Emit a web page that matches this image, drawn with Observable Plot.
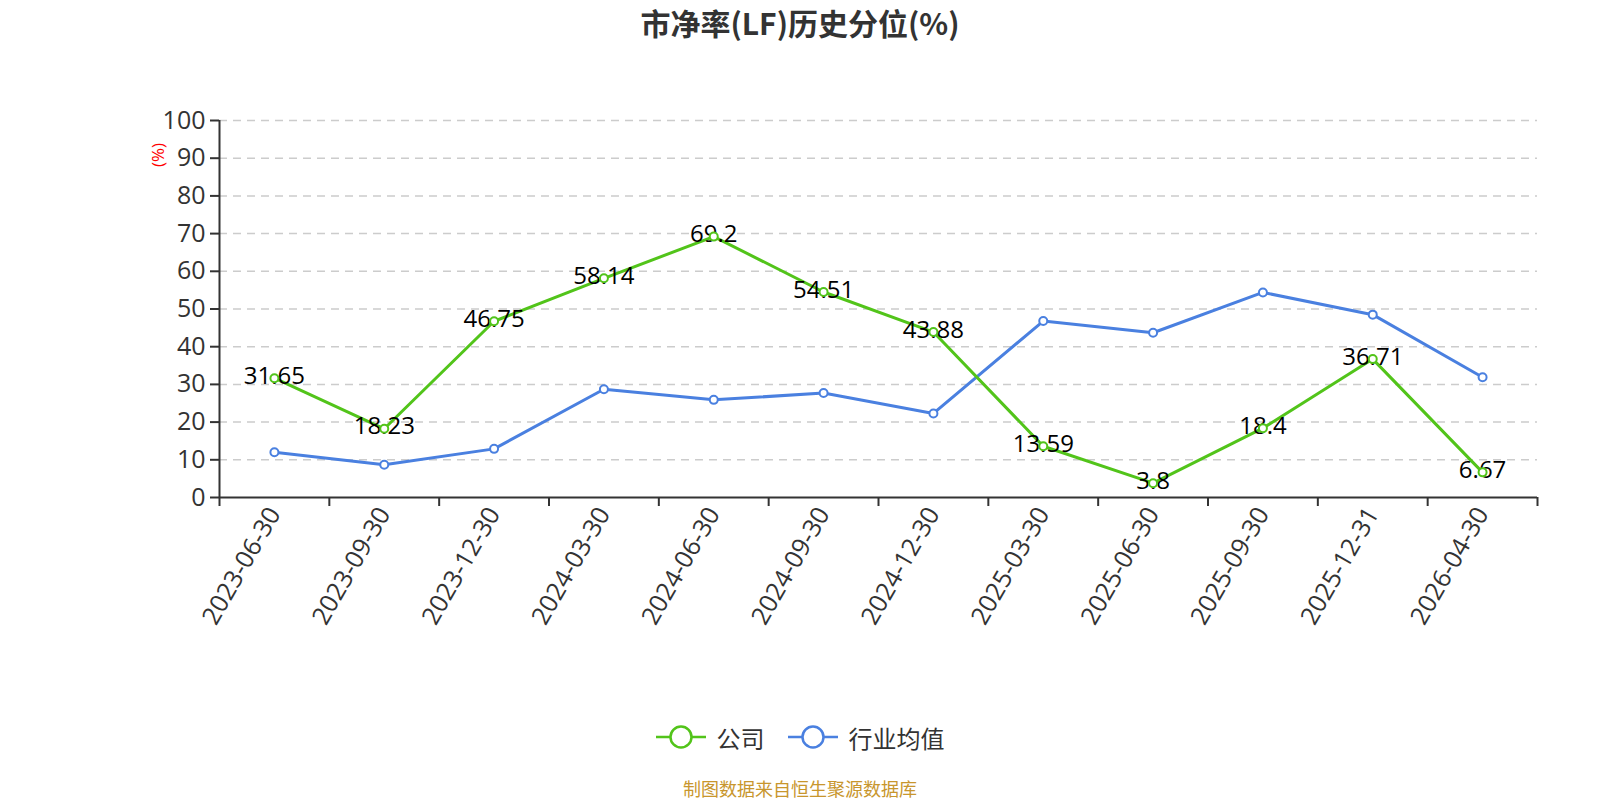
<!DOCTYPE html>
<html>
<head>
<meta charset="utf-8">
<script src="https://cdn.jsdelivr.net/npm/d3@7"></script>
<script src="https://cdn.jsdelivr.net/npm/@observablehq/plot@0.6"></script>
<style>
  html, body { margin: 0; padding: 0; background: #fff; }
  body { width: 1600px; height: 800px; position: relative; overflow: hidden;
         font-family: "Open Sans", "Noto Sans CJK SC", sans-serif; }
  #title { position: absolute; left: 0; top: 0; width: 1600px; height: 45px; line-height: 45px;
           text-align: center; font-size: 30px; font-weight: bold; color: #333;
           font-family: "Noto Sans CJK SC", "Open Sans", sans-serif; }
  #chart { position: absolute; left: 0; top: 0; }
  #ylab { position: absolute; left: 157px; top: 155px; transform: translate(-50%, -50%) rotate(-90deg);
          color: red; font-size: 17px; white-space: nowrap; }
  #legend { position: absolute; left: 0; top: 717px; width: 1600px; height: 40px;
            display: flex; justify-content: center; align-items: center; gap: 23px;
            font-size: 24px; color: #333; font-family: "Noto Sans CJK SC", sans-serif; }
  .item { display: flex; align-items: center; gap: 11px; }
  #footer { position: absolute; left: 0; top: 776px; width: 1600px; height: 24px; line-height: 24px;
            text-align: center; font-size: 18px; color: #c8962d; font-family: "Noto Sans CJK SC", sans-serif; }
</style>
</head>
<body>
<div id="title">市净率(LF)历史分位(%)</div>
<div id="chart"></div>
<div id="ylab">(%)</div>
<div id="legend"></div>
<div id="footer">制图数据来自恒生聚源数据库</div>
<script>
const dates = ["2023-06-30","2023-09-30","2023-12-30","2024-03-30","2024-06-30","2024-09-30",
               "2024-12-30","2025-03-30","2025-06-30","2025-09-30","2025-12-31","2026-04-30"];
const company = [31.65, 18.23, 46.75, 58.14, 69.2, 54.51, 43.88, 13.59, 3.8, 18.4, 36.71, 6.67];
const industry = [12.0, 8.7, 12.9, 28.7, 25.9, 27.7, 22.3, 46.8, 43.7, 54.4, 48.5, 31.9];
const yTicks = [0, 10, 20, 30, 40, 50, 60, 70, 80, 90, 100];
const seriesNames = ["公司", "行业均值"];
const GREEN = "#52c41a";
const BLUE = "#4a80e0";
const colors = [GREEN, BLUE];

const idx = (d, i) => i;
const val = d => d;

const chart = Plot.plot({
  width: 1600,
  height: 680,
  marginLeft: 219,
  marginRight: 63,
  marginTop: 120,
  marginBottom: 183,
  style: { color: "#333", fontFamily: "'Open Sans', 'Noto Sans CJK SC', sans-serif", background: "transparent" },
  x: { type: "linear", domain: [-0.5, dates.length - 0.5] },
  y: { domain: [0, 100] },
  marks: [
    Plot.gridY(yTicks.filter(d => d > 0), { stroke: "#ccc", strokeOpacity: 1, strokeWidth: 1.5, strokeDasharray: "8,6" }),
    Plot.axisY({ ticks: yTicks, tickSize: 9, tickPadding: 5, fontSize: 25, label: null, strokeWidth: 2, tickFormat: d => String(d) }),
    Plot.axisX({ ticks: d3.range(dates.length + 1).map(i => i - 0.5), tickFormat: () => "", tickSize: 9, strokeWidth: 2, label: null }),
    Plot.axisX({ ticks: d3.range(dates.length), tickFormat: i => dates[i], tickSize: 0, tickPadding: 12, tickRotate: -60, fontSize: 25, label: null }),
    Plot.ruleX([-0.5], { stroke: "#333", strokeWidth: 2 }),
    Plot.ruleY([0], { stroke: "#333", strokeWidth: 2 }),
    Plot.lineY(industry, { x: idx, y: val, stroke: BLUE, strokeWidth: 3 }),
    Plot.dot(industry, { x: idx, y: val, r: 4, fill: "white", stroke: BLUE, strokeWidth: 2 }),
    Plot.lineY(company, { x: idx, y: val, stroke: GREEN, strokeWidth: 3 }),
    Plot.text(company, { x: idx, y: val, text: d => String(d), fontSize: 24, fill: "#000", dy: -2 }),
    Plot.dot(company, { x: idx, y: val, r: 4, fill: "white", stroke: GREEN, strokeWidth: 2 })
  ]
});
document.getElementById("chart").appendChild(chart);

const legend = document.getElementById("legend");
seriesNames.forEach((name, i) => {
  const item = document.createElement("div");
  item.className = "item";
  item.innerHTML = `<svg width="50" height="26"><line x1="0" x2="50" y1="13" y2="13" stroke="${colors[i]}" stroke-width="2.5"/><circle cx="25" cy="13" r="10.5" fill="white" stroke="${colors[i]}" stroke-width="2.5"/></svg><span>${name}</span>`;
  legend.appendChild(item);
});
</script>
</body>
</html>
